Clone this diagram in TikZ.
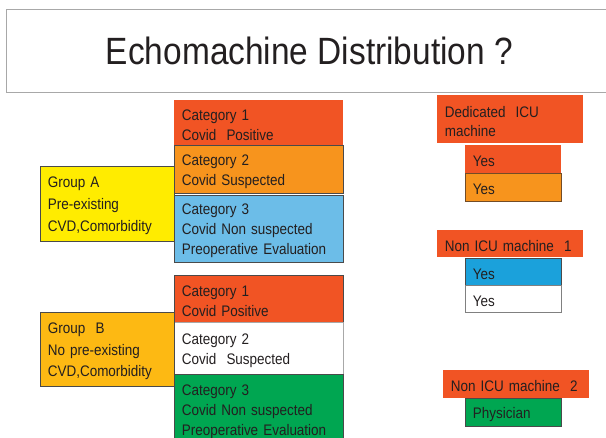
\documentclass[tikz,border=0pt]{standalone}
\usepackage{fontspec}
\setmainfont{Liberation Sans}[FakeStretch=0.88]
\definecolor{cred}{HTML}{F15424}
\definecolor{corange}{HTML}{F7941D}
\definecolor{clblue}{HTML}{6CBDE8}
\definecolor{cyellow}{HTML}{FFEC00}
\definecolor{cgold}{HTML}{FDB913}
\definecolor{cgreen}{HTML}{00A651}
\definecolor{cblue}{HTML}{1BA1DB}
\definecolor{ctext}{HTML}{231F20}
\definecolor{cdark}{HTML}{4A4A4A}
\definecolor{clight}{HTML}{A8A8A8}
\tikzset{
  box/.style={rectangle, anchor=north west, inner xsep=7.5pt, inner ysep=0pt,
    align=left, text=ctext, line width=0.8pt, text height=15pt,
    font=\fontsize{15.3}{20}\selectfont},
  dk/.style={draw=cdark},
  lt/.style={draw=clight},
  titlebox/.style={rectangle, anchor=north west, draw=clight, line width=1pt,
    text=ctext, font=\fontsize{38}{45}\selectfont, inner sep=0pt}
}
\begin{document}
\begin{tikzpicture}[x=1pt,y=-1pt]
\useasboundingbox (0,0) rectangle (606,438);
% title
\node[titlebox, minimum width=606pt, minimum height=83pt] (title) at (6,9) {Echomachine Distribution ?};
% group A
\node[box, fill=cred, minimum width=169pt, minimum height=45pt, text width=154pt] (a1) at (174,100) {Category 1\\Covid\ \ Positive};
\node[box, dk, fill=corange, minimum width=169pt, minimum height=48pt, text width=154pt] (a2) at (174,145) {Category 2\\Covid Suspected};
\node[box, dk, fill=clblue, minimum width=169pt, minimum height=67pt, text width=154pt] (a3) at (174,195) {Category 3\\Covid Non suspected\\Preoperative Evaluation};
\node[box, dk, fill=cyellow, minimum width=134pt, minimum height=75pt, text width=119pt, font=\fontsize{15.3}{22}\selectfont] (ga) at (40,166) {Group A\\Pre-existing\\CVD,Comorbidity};
% group B
\node[box, dk, fill=cred, minimum width=169pt, minimum height=47pt, text width=154pt] (b1) at (174,275) {Category 1\\Covid Positive};
\node[box, lt, fill=white, minimum width=169pt, minimum height=52pt, text width=154pt] (b2) at (174,322) {Category 2\\Covid\ \ Suspected};
\node[box, dk, fill=cgreen, minimum width=169pt, minimum height=71pt, text width=154pt] (b3) at (174,374) {Category 3\\Covid Non suspected\\Preoperative Evaluation};
\node[box, dk, fill=cgold, minimum width=134pt, minimum height=74pt, text width=119pt, font=\fontsize{15.3}{21.5}\selectfont] (gb) at (40,312) {Group\ \ B\\No pre-existing\\CVD,Comorbidity};
% right column
\node[box, fill=cred, minimum width=146pt, minimum height=48pt, text width=131pt, font=\fontsize{15.3}{19}\selectfont] (r0) at (437,95) {Dedicated\ \ ICU\\machine};
\node[box, fill=cred, minimum width=96pt, minimum height=28pt, text width=81pt] (r1) at (465,145) {Yes};
\node[box, draw=brown!60!black, fill=corange, minimum width=96pt, minimum height=28pt, text width=81pt] (r2) at (465,173) {Yes};
\node[box, fill=cred, minimum width=146pt, minimum height=27pt, text width=131pt] (r3) at (437,230) {Non ICU machine\ \ 1};
\node[box, dk, fill=cblue, minimum width=96pt, minimum height=27pt, text width=81pt] (r4) at (465,258) {Yes};
\node[box, draw=gray, fill=white, minimum width=96pt, minimum height=27pt, text width=81pt] (r5) at (465,285) {Yes};
\node[box, fill=cred, minimum width=146pt, minimum height=28pt, text width=131pt] (r6) at (443,370) {Non ICU machine\ \ 2};
\node[box, dk, fill=cgreen, minimum width=96pt, minimum height=28pt, text width=81pt] (r7) at (465,398) {Physician};
\end{tikzpicture}
\end{document}
